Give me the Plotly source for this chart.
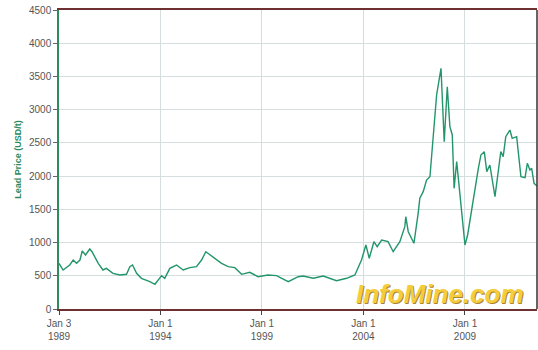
import plotly.graph_objects as go

dates = [
    "1989-01-03", "1989-03-18", "1989-07-15", "1989-09-15", "1989-11-15", "1990-01-15",
    "1990-02-25", "1990-04-25", "1990-07-10", "1990-08-20", "1990-12-10", "1991-03-05",
    "1991-05-05", "1991-09-01", "1992-01-01", "1992-05-01", "1992-07-01", "1992-08-18",
    "1992-10-30", "1993-01-25", "1993-06-25", "1993-09-25", "1994-01-22", "1994-03-20",
    "1994-06-20", "1994-10-18", "1995-02-15", "1995-06-15", "1995-10-12", "1996-01-12",
    "1996-03-28", "1996-06-10", "1996-09-05", "1997-01-05", "1997-05-05", "1997-09-01",
    "1998-01-01", "1998-05-28", "1998-10-25", "1999-04-20", "1999-09-20", "2000-04-20",
    "2000-10-15", "2001-01-12", "2001-07-12", "2002-01-08", "2002-09-05", "2003-03-05",
    "2003-08-01", "2003-11-28", "2004-02-15", "2004-04-15", "2004-07-08", "2004-09-05",
    "2004-11-25", "2005-03-20", "2005-06-20", "2005-10-18", "2006-01-15", "2006-02-02",
    "2006-03-18", "2006-06-28", "2006-09-12", "2006-10-12", "2006-12-12", "2007-02-10",
    "2007-04-12", "2007-06-10", "2007-08-10", "2007-10-28", "2007-12-25", "2008-02-18",
    "2008-04-05", "2008-05-18", "2008-06-20", "2008-08-05", "2008-10-02", "2009-01-01",
    "2009-02-18", "2009-06-01", "2009-08-30", "2009-10-15", "2009-12-15", "2010-01-28",
    "2010-03-25", "2010-06-25", "2010-10-08", "2010-11-20", "2011-01-05", "2011-03-20",
    "2011-05-01", "2011-07-20", "2011-10-05", "2011-12-18", "2012-01-28", "2012-03-15",
    "2012-04-15", "2012-05-28", "2012-07-20",
]
lead_price = [
    688, 587, 662, 737, 688, 737,
    873, 813, 903, 862, 688, 587,
    612, 537, 512, 522, 637, 662,
    537, 462, 411, 372, 502, 462,
    612, 662, 587, 622, 637, 737,
    862, 813, 763, 688, 637, 622,
    522, 552, 486, 512, 502, 411,
    486, 497, 462, 497, 426, 462,
    512, 737, 963, 763, 1013, 938,
    1038, 1013, 862, 1013, 1239, 1389,
    1163, 989, 1440, 1666, 1766, 1941,
    1991, 2569, 3221, 3622, 2518, 3346,
    2744, 2619, 1816, 2217, 1766, 963,
    1114, 1666, 2118, 2318, 2368, 2067,
    2167, 1690, 2368, 2293, 2593, 2694,
    2569, 2593, 1991, 1976, 2193, 2092,
    2118, 1891, 1850,
]

x_tick_vals = ["1989-01-03", "1994-01-01", "1999-01-01", "2004-01-01", "2009-01-01"]
x_tick_text = ["Jan 3<br>1989", "Jan 1<br>1994", "Jan 1<br>1999", "Jan 1<br>2004", "Jan 1<br>2009"]
y_tick_vals = [0, 500, 1000, 1500, 2000, 2500, 3000, 3500, 4000, 4500]

fig = go.Figure()
fig.add_trace(go.Scatter(
    x=dates, y=lead_price, mode="lines",
    line=dict(color="#23956b", width=1.4),
    showlegend=False,
))

fig.update_layout(
    width=538, height=350,
    margin=dict(l=59, r=1, t=10, b=41),
    paper_bgcolor="white", plot_bgcolor="white",
    font=dict(family="Liberation Sans, Arial, sans-serif", size=10, color="#555555"),
    xaxis=dict(
        range=["1989-01-03", "2012-07-20"],
        tickmode="array", tickvals=x_tick_vals, ticktext=x_tick_text,
        showgrid=True, gridcolor="#d5dede", gridwidth=1,
        showline=True, linecolor="#6e3030", linewidth=1.5, mirror=True,
        ticks="outside", ticklen=4, tickcolor="#444444",
        tickfont=dict(size=10, color="#555555"),
        zeroline=False,
    ),
    yaxis=dict(
        range=[0, 4500],
        tickmode="array", tickvals=y_tick_vals,
        showgrid=True, gridcolor="#d5dede", gridwidth=1,
        showline=True, linecolor="#2e8b5e", linewidth=1.5,
        ticks="outside", ticklen=4, tickcolor="#666666",
        tickfont=dict(size=10, color="#555555"),
        title=dict(text="<b>Lead Price (USD/t)</b>", font=dict(size=9, color="#2e8b5e"), standoff=6),
        zeroline=False,
    ),
    shapes=[
        dict(type="line", xref="paper", yref="paper", x0=1, x1=1, y0=0, y1=1,
             line=dict(color="#333333", width=1.5)),
    ],
    annotations=[
        dict(text="<b><i>InfoMine.com</i></b>", xref="paper", yref="paper",
             x=0.800, y=0.046, xanchor="center", yanchor="middle", showarrow=False,
             font=dict(family="Liberation Sans, Arial, sans-serif", size=26, color="#a88330")),
        dict(text="<b><i>InfoMine.com</i></b>", xref="paper", yref="paper",
             x=0.797, y=0.050, xanchor="center", yanchor="middle", showarrow=False,
             font=dict(family="Liberation Sans, Arial, sans-serif", size=26, color="#f5cd3c")),
    ],
)

fig.write_html("out.html")
